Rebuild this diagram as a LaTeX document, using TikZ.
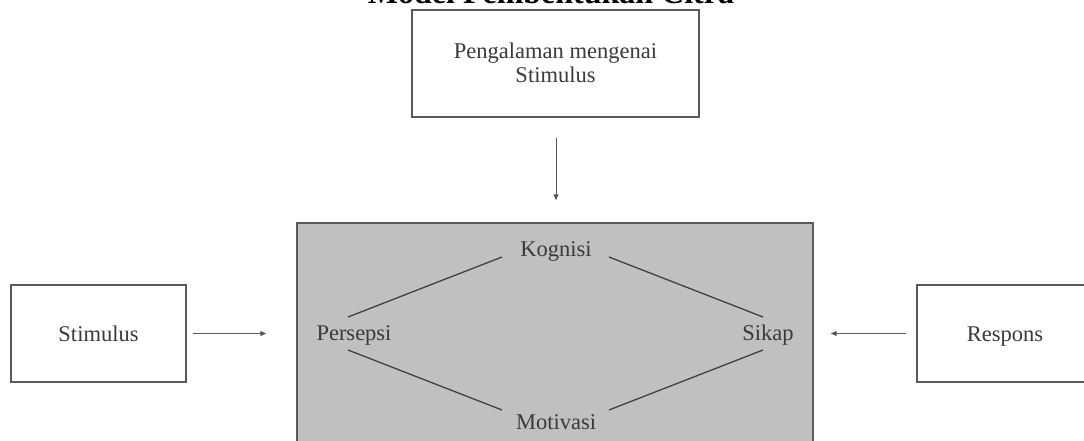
\documentclass[tikz,border=0pt]{standalone}
\usepackage{fontspec}
\setmainfont{Liberation Serif}
\usetikzlibrary{arrows.meta,calc}
\definecolor{txt}{HTML}{3A3A3A}
\definecolor{edge}{HTML}{5A5A5A}
\definecolor{linec}{HTML}{404040}
\definecolor{boxfill}{HTML}{BFC0C2}
\tikzset{
  plainbox/.style={draw=edge, line width=1.4pt, fill=white, inner sep=0pt,
    text=txt, font=\fontsize{22.5}{24}\selectfont, align=center},
  lbl/.style={text=txt, font=\fontsize{22.5}{24}\selectfont, inner sep=0pt, anchor=base},
  link/.style={draw=linec, line width=1.3pt},
  flow/.style={draw=edge, line width=1pt, -{Triangle[length=6pt,width=5pt]}}
}
\begin{document}
\begin{tikzpicture}[x=1pt,y=-1pt]
\useasboundingbox (0,0) rectangle (1084,441);
\clip (0,0) rectangle (1084,441);
% title
\node[anchor=base, inner sep=0pt, font=\fontsize{32}{34}\bfseries] (title) at (551,4) {Model Pembentukan Citra};
% top box
\node[plainbox, minimum width=287pt, minimum height=107pt] (exp) at (555.5,63.5) {};
\node[lbl] (expA) at (555.5,59) {Pengalaman mengenai};
\node[lbl] (expB) at (555.5,83) {Stimulus};
% central box
\node[draw=edge, line width=1.4pt, fill=boxfill, inner sep=0pt,
      minimum width=516pt, minimum height=240pt] (core) at (555,343) {};
% side boxes
\node[plainbox, minimum width=175pt, minimum height=97pt] (stim) at (98.5,333.5) {};
\node[lbl] (stimT) at (98.5,341) {Stimulus};
\node[plainbox, minimum width=175pt, minimum height=97pt] (resp) at (1004.5,333.5) {};
\node[lbl] (respT) at (1005,341) {Respons};
% inner labels
\node[lbl] (K) at (556,256) {Kognisi};
\node[lbl] (P) at (354,340) {Persepsi};
\node[lbl] (S) at (768,340) {Sikap};
\node[lbl] (M) at (556,429) {Motivasi};
% diamond links
\draw[link] ($(K.base)+(-54,1)$) -- ($(P.base)+(-6,-23)$);
\draw[link] ($(K.base)+(53,1)$) -- ($(S.base)+(-5,-23)$);
\draw[link] ($(P.base)+(-6,10)$) -- ($(M.base)+(-54,-19)$);
\draw[link] ($(S.base)+(-5,10)$) -- ($(M.base)+(53,-19)$);
% arrows
\draw[flow] ($(exp.south)+(0.5,20)$) -- ($(core.north)+(1,-22)$);
\draw[flow] ($(stim.east)+(6,0)$) -- ($(core.west|-stim.east)+(-30,0)$);
\draw[flow] ($(resp.west)+(-10,0)$) -- ($(core.east|-resp.west)+(17,0)$);
\end{tikzpicture}
\end{document}
